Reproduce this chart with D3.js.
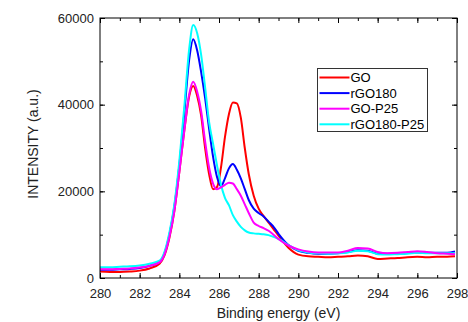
<!DOCTYPE html>
<html lang="en">
<head>
    <meta charset="UTF-8">
    <title>C1s XPS spectra</title>
    <script src="https://d3js.org/d3.v7.min.js"></script>
    <style>
        body { margin: 0; background: #fff; }
        svg { display: block; font-family: "Liberation Sans", Arial, sans-serif; }
        .tick-label { font-size: 13px; fill: #222; }
        .axis-title { font-size: 14px; fill: #222; }
        .legend-text { font-size: 13px; fill: #000; }
    </style>
</head>
<body>
    <svg width="468" height="322"></svg>

    <script>
        // Binding energy grid (eV)
        const energy = [280, 280.5, 281, 281.5, 282, 282.5, 283, 283.25, 283.5, 283.75, 284, 284.25, 284.5, 284.7, 284.9,
            285.1, 285.3, 285.5, 285.7, 285.9, 286.1, 286.3, 286.5, 286.7, 286.9, 287.1, 287.3, 287.5, 287.75, 288,
            288.25, 288.5, 288.75, 289, 289.5, 290, 290.5, 291, 291.5, 292, 292.5, 293, 293.5, 294, 294.5, 295,
            295.5, 296, 296.5, 297, 297.5, 297.9];

        // Intensities (a.u.)
        const go = [1500, 1400, 1400, 1500, 1700, 2200, 3300, 5200, 9300, 15500, 24500, 34000, 42000, 44300, 42000,
            37500, 30000, 24000, 20500, 21000, 25500, 32500, 37800, 40500, 40300, 37000, 30000, 24000, 19000, 16000,
            14300, 12800, 11300, 9800, 7000, 5400, 5000, 4900, 4800, 4900, 5000, 5200, 5000, 4400, 4500, 4600,
            4800, 4900, 4800, 4900, 4900, 5000];
        const rgo180 = [1900, 1900, 2000, 2100, 2300, 2800, 3700, 5700, 10000, 16500, 26000, 38000, 50500, 55100, 52500,
            47500, 41500, 34500, 28000, 23300, 21200, 23000, 25300, 26300, 25000, 23000, 20500, 18000, 16000, 15000,
            14200, 13000, 11800, 10200, 7600, 6300, 5800, 5600, 5600, 5700, 6000, 6400, 6300, 5600, 5600, 5700,
            5800, 5900, 5800, 5800, 5800, 6100];
        const goP25 = [2000, 2000, 2100, 2200, 2400, 2800, 3600, 5400, 9500, 15500, 24500, 34000, 42500, 45300, 43000,
            38500, 31500, 25500, 21800, 20500, 20900, 21500, 22000, 21800, 20500, 19000, 17000, 15000, 12800, 12000,
            11500, 10900, 10000, 9000, 7500, 6600, 6100, 5900, 5900, 5900, 6300, 6900, 6800, 6000, 5700, 5800,
            6000, 6200, 6000, 5700, 5600, 5500];
        const rgo180P25 = [2500, 2500, 2600, 2700, 2900, 3300, 4000, 6000, 10500, 17000, 27000, 39500, 53000, 58400, 56500,
            51500, 44000, 36000, 31000, 26000, 21500, 18500, 16800, 14500, 13000, 11800, 11000, 10500, 10300, 10200,
            10100, 9900, 9500, 9000, 7600, 6400, 5900, 5700, 5600, 5700, 5900, 6300, 6200, 5500, 5400, 5500,
            5600, 5800, 5700, 5700, 5700, 5700];

        const seriesNames = ["GO", "rGO180", "GO-P25", "rGO180-P25"];
        const seriesColors = ["#ff0000", "#0000ff", "#ff00ff", "#00ffff"];
        const seriesValues = [go, rgo180, goP25, rgo180P25];

        const xTicks = [280, 282, 284, 286, 288, 290, 292, 294, 296, 298];
        const yTicks = [0, 20000, 40000, 60000];

        const margin = { top: 18, right: 11, bottom: 44, left: 100 },
              width = 468 - margin.left - margin.right,
              height = 322 - margin.top - margin.bottom;

        const svg = d3.select("svg");
        const g = svg.append("g")
            .attr("transform", `translate(${margin.left},${margin.top})`);

        const x = d3.scaleLinear().domain([280, 298]).range([0, width]);
        const y = d3.scaleLinear().domain([0, 60000]).range([height, 0]);

        // Inward ticks on all four sides, majors labelled on bottom/left only
        const xMinor = d3.range(280, 298.01, 1);
        const yMinor = d3.range(0, 60001, 10000);

        function addAxis(axis, transform, labels) {
            const a = g.append("g").attr("transform", transform).call(axis);
            a.select(".domain").remove();
            a.selectAll(".tick line").attr("stroke", "#000");
            if (!labels) a.selectAll(".tick text").remove();
            else a.selectAll(".tick text").attr("class", "tick-label").attr("font-size", null).attr("font-family", null);
            return a;
        }

        addAxis(d3.axisBottom(x).tickValues(xMinor).tickSizeInner(-3).tickSizeOuter(0).tickFormat(""), `translate(0,${height})`, false);
        addAxis(d3.axisBottom(x).tickValues(xTicks).tickSizeInner(-5).tickSizeOuter(0).tickPadding(11), `translate(0,${height})`, true);
        addAxis(d3.axisTop(x).tickValues(xMinor).tickSizeInner(-3).tickSizeOuter(0).tickFormat(""), "translate(0,0)", false);
        addAxis(d3.axisTop(x).tickValues(xTicks).tickSizeInner(-5).tickSizeOuter(0), "translate(0,0)", false);
        addAxis(d3.axisLeft(y).tickValues(yMinor).tickSizeInner(-3).tickSizeOuter(0).tickFormat(""), "translate(0,0)", false);
        addAxis(d3.axisLeft(y).tickValues(yTicks).tickSizeInner(-5).tickSizeOuter(0).tickPadding(6).tickFormat(d3.format("d")), "translate(0,0)", true);
        addAxis(d3.axisRight(y).tickValues(yMinor).tickSizeInner(-3).tickSizeOuter(0).tickFormat(""), `translate(${width},0)`, false);
        addAxis(d3.axisRight(y).tickValues(yTicks).tickSizeInner(-5).tickSizeOuter(0), `translate(${width},0)`, false);

        // Spectra
        const line = d3.line()
            .x((d, i) => x(energy[i]))
            .y(d => y(d))
            .curve(d3.curveMonotoneX);

        const drawOrder = [0, 1, 3, 2];
        drawOrder.forEach(k => {
            g.append("path")
                .datum(seriesValues[k])
                .attr("fill", "none")
                .attr("stroke", seriesColors[k])
                .attr("stroke-width", 2)
                .attr("stroke-linejoin", "round")
                .attr("d", line);
        });

        // Frame
        g.append("rect")
            .attr("width", width)
            .attr("height", height)
            .attr("fill", "none")
            .attr("stroke", "#000")
            .attr("stroke-width", 1);

        // Legend
        const legend = g.append("g").attr("transform", `translate(${Math.round(x(290.95)) + 0.5},${Math.round(y(48500)) + 0.5})`);
        legend.append("rect")
            .attr("width", 110)
            .attr("height", 63)
            .attr("fill", "#fff")
            .attr("stroke", "#333")
            .attr("stroke-width", 1);
        seriesNames.forEach((name, i) => {
            const row = legend.append("g").attr("transform", `translate(0,${9 + i * 15.6})`);
            row.append("line")
                .attr("x1", 2).attr("x2", 32)
                .attr("stroke", seriesColors[i])
                .attr("stroke-width", 2);
            row.append("text")
                .attr("class", "legend-text")
                .attr("x", 33)
                .attr("dy", "0.35em")
                .text(name);
        });

        // Axis titles
        svg.append("text")
            .attr("class", "axis-title")
            .attr("x", margin.left + width / 2)
            .attr("y", 318)
            .attr("text-anchor", "middle")
            .text("Binding energy (eV)");

        svg.append("text")
            .attr("class", "axis-title")
            .attr("transform", `translate(38,${margin.top + height / 2 - 4}) rotate(-90)`)
            .attr("text-anchor", "middle")
            .text("INTENSITY (a.u.)");
    </script>
</body>
</html>
